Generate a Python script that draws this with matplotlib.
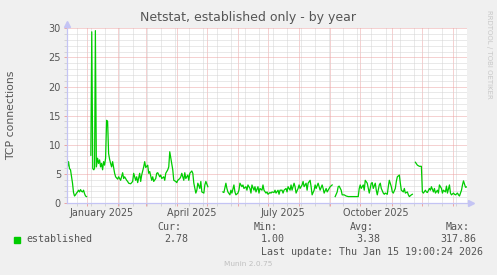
import numpy as np
import pandas as pd
import matplotlib
matplotlib.use("Agg")
import matplotlib.pyplot as plt
from matplotlib.patches import Rectangle

nan = np.nan

# munin yearly graph: 400 days ending at the last update
end = pd.Timestamp("2026-01-15 19:00")
start = end - pd.Timedelta(days=400)

# days since start of graph window, nan = no data
day = [0, 1, 2, 3, 4, 5, 6, 7, 8, 9,
       10, 11, 12, 13, 14, 15, 16, 17, 18, 19,
       20, 22, 24.3, 25.2, 26.2, 27.3, 28.0, 28.8, 29.8, 31,
       32, 33, 34, 35, 36, 37, 38, 39, 40, 41,
       42, 43, 44, 45, 46, 48, 49, 51, 52, 54,
       56, 57, 58, 60, 61, 62, 64, 66, 67, 69,
       70, 71, 73, 74, 75, 77, 78, 79, 81, 82,
       83, 85, 86, 87, 89, 90, 91, 93, 94, 95,
       97, 98, 99, 101, 102, 103, 105, 106, 107, 109,
       110, 111, 113, 114, 115, 117, 118, 119, 121, 122,
       123, 125, 126, 127, 129, 130, 131, 133, 134, 135,
       137, 138, 139, 141, 148, 156, 157, 159, 160, 161,
       163, 164, 165, 167, 168, 169, 171, 172, 173, 175,
       176, 177, 179, 180, 181, 183, 184, 185, 187, 188,
       189, 191, 192, 193, 195, 196, 197, 199, 200, 201,
       203, 204, 205, 207, 208, 209, 211, 212, 213, 215,
       216, 217, 219, 220, 221, 223, 224, 225, 227, 228,
       229, 231, 232, 233, 235, 236, 237, 239, 240, 241,
       243, 244, 245, 247, 248, 249, 251, 252, 253, 255,
       256, 257, 259, 260, 261, 262, 263, 265, 266.5, 268,
       270, 271, 272, 274, 275, 277, 279, 281, 286, 291,
       292, 293, 294, 296, 297, 298, 300, 301, 302, 304,
       305, 306, 308, 309, 310, 312, 313, 314, 316, 317,
       318, 320, 321, 322, 324, 325, 326, 328, 329, 330,
       332, 333, 334, 336, 337, 338, 340, 341, 342, 344,
       345, 346.5, 348, 350, 351, 352, 354, 355, 356, 358,
       359, 360, 362, 363, 364, 366, 367, 368, 370, 371,
       372, 374, 375, 376, 378, 379, 380, 382, 383, 384,
       386, 387, 388, 390, 391, 392, 394, 395, 396, 398,
       399.5]
conn = [7.4, 6.2, 7.1, 5.9, 5.7, 4.6, 3.4, 1.8, 1.2, 1.4,
        1.7, 1.9, 2.2, 1.9, 2.3, 2.0, 1.9, 2.2, 1.6, 1.2,
        1.1, nan, 8.2, 29.4, 5.9, 5.7, 6.0, 29.6, 6.2, 7.7,
        6.8, 7.4, 6.2, 6.8, 5.7, 7.1, 6.5, 7.7, 14.2, 14.0,
        8.5, 7.5, 6.8, 6.2, 7.1, 5.1, 4.5, 4.1, 4.5, 3.9,
        5.2, 4.2, 4.5, 3.9, 3.7, 3.4, 3.3, 3.7, 5.1, 3.9,
        4.5, 3.5, 5.1, 3.7, 4.8, 6.2, 7.1, 6.1, 6.5, 5.1,
        5.4, 3.9, 4.5, 3.7, 4.2, 5.1, 5.2, 4.5, 4.8, 4.2,
        4.5, 3.9, 5.1, 5.7, 6.2, 8.8, 6.8, 5.7, 3.9, 3.7,
        3.5, 3.9, 4.2, 4.5, 5.1, 3.9, 5.2, 4.2, 4.8, 3.9,
        5.1, 5.5, 5.1, 3.4, 1.7, 2.2, 3.4, 2.5, 3.7, 1.9,
        1.7, 3.1, 3.7, 2.8, nan, 1.9, 1.8, 3.4, 2.5, 1.9,
        1.4, 2.2, 1.7, 3.1, 1.9, 1.4, 1.7, 2.2, 3.4, 2.8,
        3.1, 2.5, 2.8, 2.2, 3.1, 2.5, 1.7, 3.1, 2.2, 2.8,
        1.9, 2.8, 1.7, 2.5, 2.2, 3.1, 2.2, 1.7, 1.9, 1.5,
        1.8, 1.7, 1.9, 1.8, 2.2, 1.7, 2.2, 1.5, 2.2, 2.2,
        1.7, 2.2, 2.5, 1.9, 2.8, 2.2, 3.1, 2.2, 3.4, 2.8,
        1.7, 2.5, 3.1, 2.5, 3.1, 3.7, 2.8, 3.4, 2.2, 3.4,
        3.9, 2.8, 1.4, 2.2, 3.1, 2.5, 3.4, 2.8, 2.2, 3.1,
        2.5, 1.7, 2.5, 1.9, 2.2, 2.5, 2.8, 3.1, nan, 1.1,
        1.9, 2.8, 2.9, 2.2, 1.4, 1.4, 1.2, 1.1, 1.1, 1.1,
        2.5, 3.1, 2.5, 3.1, 2.2, 3.9, 3.4, 2.5, 1.7, 3.4,
        3.5, 2.5, 3.4, 2.2, 1.4, 3.1, 3.4, 2.5, 1.7, 1.5,
        1.7, 1.5, 2.8, 3.9, 2.8, 1.9, 1.7, 2.5, 3.7, 4.5,
        4.8, 3.4, 2.2, 1.9, 2.5, 1.7, 1.9, 1.4, 1.1, 1.4,
        1.5, nan, 7.0, 6.5, 6.4, 6.3, 6.3, 1.9, 1.7, 2.2,
        1.9, 1.8, 2.5, 2.2, 2.8, 1.9, 2.5, 1.7, 2.2, 1.7,
        3.1, 2.5, 1.7, 2.2, 1.9, 2.9, 1.7, 3.1, 1.7, 1.4,
        1.7, 1.5, 1.4, 1.7, 1.4, 1.2, 2.2, 3.1, 3.8, 2.7,
        2.78]

month_labels = ["January 2025", "April 2025", "July 2025", "October 2025"]
label_dates = ["2025-01-16", "2025-04-16", "2025-07-16", "2025-10-16"]
stat_names = ["Cur:", "Min:", "Avg:", "Max:"]
stat_values = ["2.78", "1.00", "3.38", "317.86"]
last_update = "Last update: Thu Jan 15 19:00:24 2026"

W, H = 497, 275
def fx(x):
    return x / W
def fy(y):
    return 1 - y / H

text_col = "#555555"
axis_col = "#c4c4f4"
mgrid_col = "#eca4a4"
grid_col = "#d4d4d4"

fig = plt.figure(figsize=(W / 100, H / 100), dpi=100, facecolor="#f0f0f0")
ax = fig.add_axes([fx(66.5), fy(203), (467.5 - 66.5) / W, (203 - 28.3) / H])
ax.set_facecolor("white")

t = start + pd.to_timedelta(day, unit="D")
ax.plot(t, conn, color="#00cc00", lw=0.9, zorder=3)

ax.set_xlim(start, end)
ax.set_ylim(0, 30)

# grid: red every month / 5 units, grey every 14 days / 1 unit
months = pd.date_range("2025-01-01", end, freq="MS")
weeks = pd.date_range("2024-12-22", end, freq="14D")
ax.set_xticks(months)
ax.set_xticks(weeks, minor=True)
ax.set_xticklabels([])
ax.set_yticks(range(0, 31, 5))
ax.set_yticks(range(0, 31), minor=True)
ax.grid(which="minor", color=grid_col, ls=(0, (1, 1)), lw=0.72)
ax.grid(which="major", color=mgrid_col, ls=(0, (1, 1)), lw=0.72)
ax.set_axisbelow(True)
ax.tick_params(which="major", length=2, width=0.7, color=mgrid_col,
               labelsize=7, labelcolor=text_col, pad=2)
ax.tick_params(which="minor", length=2, width=0.7, color=grid_col)
for s in ax.spines.values():
    s.set_visible(False)

# axes with arrow heads
ax.plot([0, 0], [0, 1.03], transform=ax.transAxes, clip_on=False,
        color=axis_col, lw=0.9, zorder=4)
ax.plot([0, 1.01], [0, 0], transform=ax.transAxes, clip_on=False,
        color=axis_col, lw=0.9, zorder=4)
ax.plot([0], [1.025], marker="^", ms=4.5, color=axis_col,
        transform=ax.transAxes, clip_on=False, zorder=4)
ax.plot([1.008], [0], marker=">", ms=4.5, color=axis_col,
        transform=ax.transAxes, clip_on=False, zorder=4)

for lab, d in zip(month_labels, label_dates):
    ax.text(pd.Timestamp(d), -0.055, lab, transform=ax.get_xaxis_transform(),
            ha="center", va="center", fontsize=6.9, color=text_col)

fig.text(fx(248), fy(17.5), "Netstat, established only - by year",
         ha="center", va="center", fontsize=9, color=text_col)
fig.text(fx(11.2), fy(115), "TCP connections", rotation=90,
         ha="center", va="center", fontsize=7.8, color=text_col)
fig.text(fx(488.5), fy(54), "RRDTOOL / TOBI OETIKER", rotation=270,
         ha="center", va="center", fontsize=5, color="#c8c8c8")

# legend block
mono = "DejaVu Sans Mono"
fig.patches.append(Rectangle((fx(14), fy(243)), 6 / W, 6 / H,
                             transform=fig.transFigure, color="#00cc00"))
fig.text(fx(26), fy(239.5), "established", family=mono, fontsize=7.2,
         color=text_col, va="center", ha="left")
name_right = [181.7, 277.7, 374.3, 470]
value_right = [188.3, 284.3, 380, 476.7]
for n, v, xn, xv in zip(stat_names, stat_values, name_right, value_right):
    fig.text(fx(xn), fy(227.3), n, family=mono, fontsize=7.2,
             color=text_col, ha="right", va="center")
    fig.text(fx(xv), fy(239.5), v, family=mono, fontsize=7.2,
             color=text_col, ha="right", va="center")
fig.text(fx(482.7), fy(251.7), last_update, family=mono, fontsize=7.2,
         color=text_col, ha="right", va="center")
fig.text(fx(248), fy(264), "Munin 2.0.75", fontsize=5.3,
         color="#c0c0c0", ha="center", va="center")

fig.savefig("out.png", dpi=100, facecolor=fig.get_facecolor())
